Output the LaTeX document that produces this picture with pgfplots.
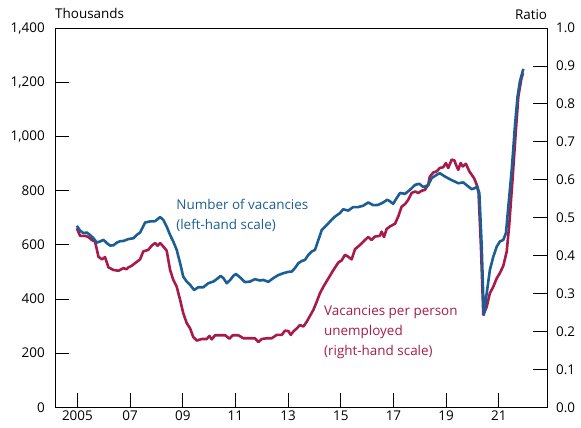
\documentclass[border=0pt]{standalone}
\usepackage{pgfplots}
\pgfplotsset{compat=1.18}
\usepackage{fontspec}
\setmainfont{Open Sans}
\definecolor{vblue}{RGB}{27,94,148}
\definecolor{vred}{RGB}{168,26,76}
\pgfplotstableread{
x y
2004.98 670
2005.10 652
2005.23 643
2005.36 645
2005.48 636
2005.61 624
2005.74 608
2005.86 612
2005.99 618
2006.12 606
2006.24 597
2006.37 598
2006.50 608
2006.62 613
2006.75 614
2006.94 621
2007.13 624
2007.25 636
2007.38 645
2007.57 682
2007.76 686
2007.95 687
2008.14 702
2008.26 692
2008.39 667
2008.52 636
2008.64 612
2008.77 581
2008.90 532
2009.02 482
2009.15 464
2009.28 452
2009.43 433
2009.59 443
2009.78 443
2009.97 458
2010.16 464
2010.29 473
2010.44 485
2010.54 477
2010.67 458
2010.80 470
2010.92 485
2011.02 492
2011.17 480
2011.36 462
2011.55 464
2011.74 473
2011.93 468
2012.06 470
2012.25 463
2012.44 477
2012.63 488
2012.82 495
2013.01 500
2013.14 501
2013.26 514
2013.39 532
2013.52 540
2013.64 544
2013.77 563
2013.90 575
2014.02 581
2014.15 618
2014.28 655
2014.47 673
2014.65 692
2014.78 704
2014.97 717
2015.09 731
2015.28 726
2015.47 739
2015.66 739
2015.85 744
2016.04 756
2016.23 746
2016.42 747
2016.61 756
2016.76 766
2016.87 760
2016.99 751
2017.12 772
2017.25 791
2017.44 788
2017.63 803
2017.82 821
2017.98 825
2018.13 813
2018.32 820
2018.45 846
2018.64 858
2018.76 864
2018.95 852
2019.14 842
2019.33 833
2019.46 827
2019.65 830
2019.84 815
2019.97 805
2020.09 809
2020.18 815
2020.26 791
2020.35 593
2020.43 341
2020.54 421
2020.66 507
2020.79 556
2020.92 593
2021.04 612
2021.17 618
2021.27 643
2021.36 741
2021.49 877
2021.61 1037
2021.71 1147
2021.80 1203
2021.93 1249
}\vacancies
\pgfplotstableread{
x y
2004.98 0.472
2005.10 0.452
2005.29 0.452
2005.42 0.449
2005.55 0.441
2005.67 0.437
2005.80 0.397
2005.93 0.390
2006.05 0.396
2006.18 0.369
2006.37 0.362
2006.56 0.360
2006.75 0.367
2006.87 0.364
2006.94 0.369
2007.06 0.373
2007.19 0.380
2007.38 0.390
2007.50 0.411
2007.69 0.415
2007.82 0.426
2007.95 0.433
2008.04 0.426
2008.14 0.433
2008.26 0.424
2008.39 0.413
2008.52 0.362
2008.64 0.336
2008.77 0.318
2008.90 0.283
2009.02 0.248
2009.15 0.222
2009.28 0.208
2009.40 0.185
2009.53 0.176
2009.72 0.180
2009.91 0.180
2010.01 0.188
2010.10 0.179
2010.23 0.190
2010.42 0.190
2010.61 0.190
2010.77 0.181
2010.90 0.190
2011.11 0.190
2011.30 0.182
2011.55 0.182
2011.74 0.182
2011.87 0.172
2012.00 0.180
2012.19 0.182
2012.38 0.182
2012.57 0.191
2012.76 0.191
2012.88 0.202
2013.01 0.201
2013.10 0.191
2013.20 0.200
2013.33 0.208
2013.45 0.217
2013.58 0.213
2013.71 0.226
2013.83 0.241
2013.96 0.257
2014.09 0.279
2014.21 0.301
2014.34 0.318
2014.53 0.340
2014.72 0.362
2014.91 0.382
2015.03 0.387
2015.16 0.402
2015.28 0.397
2015.41 0.390
2015.54 0.417
2015.73 0.428
2015.92 0.441
2016.04 0.449
2016.17 0.441
2016.29 0.450
2016.48 0.452
2016.55 0.463
2016.64 0.449
2016.74 0.470
2016.87 0.477
2017.06 0.484
2017.18 0.503
2017.31 0.529
2017.44 0.536
2017.56 0.547
2017.69 0.565
2017.82 0.569
2017.94 0.565
2018.07 0.571
2018.19 0.573
2018.32 0.587
2018.38 0.608
2018.51 0.619
2018.64 0.622
2018.76 0.631
2018.89 0.633
2018.99 0.644
2019.08 0.631
2019.21 0.653
2019.31 0.651
2019.40 0.635
2019.46 0.626
2019.55 0.644
2019.63 0.635
2019.75 0.642
2019.88 0.622
2019.97 0.613
2020.06 0.604
2020.16 0.587
2020.23 0.565
2020.32 0.424
2020.41 0.244
2020.54 0.265
2020.66 0.301
2020.79 0.318
2020.92 0.340
2021.04 0.354
2021.17 0.373
2021.30 0.411
2021.39 0.477
2021.51 0.591
2021.64 0.723
2021.74 0.819
2021.86 0.868
2021.92 0.881
}\ratio
\begin{document}
\begin{tikzpicture}[font=\fontsize{13.5}{16}\selectfont]
\pgfplotsset{
  common/.style={
    scale only axis, width=492.3bp, height=379.3bp,
    xmin=2004.15, xmax=2022.84,
    tick align=inside, major tick length=14bp,
    axis line style={line width=0.8bp},
    every tick/.style={line width=0.8bp, black},
    /pgf/number format/assume math mode=true,
    tick label style={font=\fontsize{13.5}{16}\selectfont},
  }
}
\begin{axis}[common,
  ymin=0, ymax=1, ytick={0,0.1,0.2,0.3,0.4,0.5,0.6,0.7,0.8,0.9,1.0},
  axis y line*=right, axis x line=none,
  yticklabel style={/pgf/number format/.cd, fixed, fixed zerofill, precision=1, /tikz/.cd, inner sep=0pt, xshift=8.7bp},
]
\addplot[vred, line width=2.6bp, line join=round, no marks] table {\ratio};
\node[anchor=base west, text=vred, inner sep=0pt] at (axis cs:2014.36,0.2415) {Vacancies per person};
\node[anchor=base west, text=vred, inner sep=0pt] at (axis cs:2014.36,0.1888) {unemployed};
\node[anchor=base west, text=vred, inner sep=0pt] at (axis cs:2014.36,0.136) {(right-hand scale)};
\end{axis}
\begin{axis}[common, name=main,
  ymin=0, ymax=1400, ytick={0,200,...,1400}, ytick pos=left,
  xtick={2005,2007,...,2021}, xticklabels={2005,07,09,11,13,15,17,19,21},
  xtick pos=bottom,
  yticklabel style={/pgf/number format/1000 sep={,}, inner sep=0pt, xshift=-10bp},
  xticklabel style={inner sep=0pt, yshift=-3bp},
]
\addplot[vblue, line width=2.6bp, line join=round, no marks] table {\vacancies};
\node[anchor=base west, text=vblue, inner sep=0pt] at (axis cs:2008.75,728.9) {Number of vacancies};
\node[anchor=base west, text=vblue, inner sep=0pt] at (axis cs:2008.75,657) {(left-hand scale)};
\end{axis}
\node[anchor=base west, inner sep=0pt] at ([yshift=9bp]main.north west) {Thousands};
\node[anchor=base east, inner sep=0pt] at ([yshift=8bp]main.north east) {Ratio};
\pgfresetboundingbox
\path[use as bounding box] ([xshift=-55bp,yshift=-20.7bp]main.south west) rectangle ([xshift=33.7bp,yshift=28bp]main.north east);
\end{tikzpicture}
\end{document}
